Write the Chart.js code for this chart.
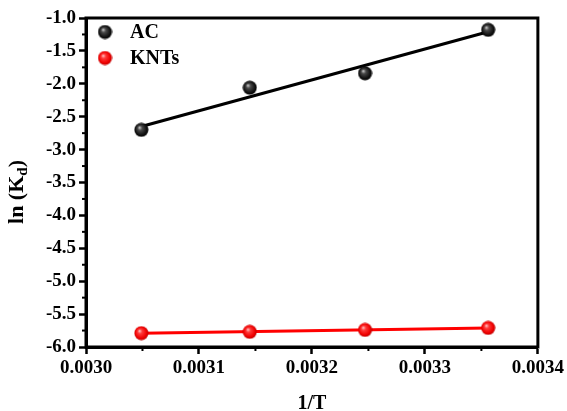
<!DOCTYPE html>
<html>
<head>
<meta charset="utf-8">
<script src="https://cdn.jsdelivr.net/npm/chart.js@4/dist/chart.umd.min.js"></script>
<style>
  html, body { margin: 0; padding: 0; background: #fff; }
</style>
</head>
<body>
<canvas id="kdChart" width="567" height="411"></canvas>
<script>
"use strict";

// данные: 1/T и ln(Kd) для двух сорбентов
const invT = [0.003049, 0.003145, 0.003247, 0.003356];
const lnKdAC = [-2.70, -2.06, -1.84, -1.18];
const lnKdKNTs = [-5.79, -5.77, -5.74, -5.71];

// линейная аппроксимация (концы линий)
const fitX = [0.003049, 0.003356];
const fitAC = [-2.65, -1.21];
const fitKNTs = [-5.79, -5.71];

const xTicks = [0.0030, 0.0031, 0.0032, 0.0033, 0.0034];
const xTickLabels = ['0.0030', '0.0031', '0.0032', '0.0033', '0.0034'];
const yTicks = [-6.0, -5.5, -5.0, -4.5, -4.0, -3.5, -3.0, -2.5, -2.0, -1.5, -1.0];
const yTickLabels = ['-6.0', '-5.5', '-5.0', '-4.5', '-4.0', '-3.5', '-3.0', '-2.5', '-2.0', '-1.5', '-1.0'];

const SERIF = '"Liberation Serif", "Times New Roman", serif';

// шарик с бликом для маркеров
function sphere(light, mid, dark, edge) {
    const c = document.createElement('canvas');
    c.width = 15; c.height = 15;
    const g = c.getContext('2d');
    const grad = g.createRadialGradient(5.5, 5, 0, 7.5, 7.5, 7.5);
    grad.addColorStop(0, light);
    grad.addColorStop(0.3, mid);
    grad.addColorStop(0.75, dark);
    grad.addColorStop(1, edge);
    g.fillStyle = grad;
    g.beginPath();
    g.arc(7.5, 7.5, 7, 0, Math.PI * 2);
    g.fill();
    return c;
}

const blackBall = sphere('#dcdcdc', '#4a4a4a', '#111', '#000');
const redBall = sphere('#ffd8d8', '#ff3a3a', '#f00000', '#b00000');

function pts(xs, ys) {
    return xs.map((x, i) => ({ x: x, y: ys[i] }));
}

// рамка, мелкие засечки, подпись оси Y и легенда
const decor = {
    id: 'decor',
    afterDraw(chart) {
        const ctx = chart.ctx;
        const a = chart.chartArea;
        const xs = chart.scales.x, ys = chart.scales.y;
        ctx.save();

        // minor ticks
        ctx.strokeStyle = '#000';
        ctx.lineWidth = 2;
        for (let i = 0; i < xTicks.length - 1; i++) {
            const px = xs.getPixelForValue((xTicks[i] + xTicks[i + 1]) / 2);
            ctx.beginPath();
            ctx.moveTo(px, a.bottom);
            ctx.lineTo(px, a.bottom + 4);
            ctx.stroke();
        }
        for (let i = 0; i < yTicks.length - 1; i++) {
            const py = ys.getPixelForValue((yTicks[i] + yTicks[i + 1]) / 2);
            ctx.beginPath();
            ctx.moveTo(a.left, py);
            ctx.lineTo(a.left - 4, py);
            ctx.stroke();
        }

        // frame
        ctx.lineWidth = 3;
        ctx.strokeRect(a.left, a.top, a.right - a.left, a.bottom - a.top);

        // y title: ln (Kd)
        ctx.fillStyle = '#000';
        ctx.textBaseline = 'alphabetic';
        const big = 'bold 22px ' + SERIF;
        const small = 'bold 15px ' + SERIF;
        ctx.font = big;
        const w1 = ctx.measureText('ln (K').width;
        const w3 = ctx.measureText(')').width;
        ctx.font = small;
        const w2 = ctx.measureText('d').width;
        const total = w1 + w2 + w3;
        ctx.translate(23, 192);
        ctx.rotate(-Math.PI / 2);
        let x0 = -total / 2;
        ctx.font = big;
        ctx.fillText('ln (K', x0, 0);
        ctx.font = small;
        ctx.fillText('d', x0 + w1, 4);
        ctx.font = big;
        ctx.fillText(')', x0 + w1 + w2, 0);
        ctx.setTransform(1, 0, 0, 1, 0, 0);

        // legend
        const items = [
            { img: blackBall, text: chart.data.datasets[0].label, y: 32 },
            { img: redBall, text: chart.data.datasets[1].label, y: 58 }
        ];
        ctx.font = 'bold 20px ' + SERIF;
        ctx.textBaseline = 'middle';
        items.forEach(it => {
            ctx.drawImage(it.img, 105 - 7.5, it.y - 7.5);
            ctx.fillText(it.text, 130, it.y + 1);
        });
        ctx.restore();
    }
};

new Chart(document.getElementById('kdChart'), {
    type: 'scatter',
    data: {
        datasets: [
            {
                label: 'AC',
                data: pts(invT, lnKdAC),
                pointStyle: blackBall,
                pointRadius: 7,
                pointHoverRadius: 7
            },
            {
                label: 'KNTs',
                data: pts(invT, lnKdKNTs),
                pointStyle: redBall,
                pointRadius: 7,
                pointHoverRadius: 7
            },
            {
                label: 'AC fit',
                data: pts(fitX, fitAC),
                showLine: true,
                borderColor: '#000',
                borderWidth: 3,
                pointRadius: 0
            },
            {
                label: 'KNTs fit',
                data: pts(fitX, fitKNTs),
                showLine: true,
                borderColor: '#ff0000',
                borderWidth: 3,
                pointRadius: 0
            }
        ]
    },
    options: {
        responsive: false,
        animation: false,
        devicePixelRatio: 1,
        layout: { padding: { top: 18, right: 28, left: 0, bottom: 0 } },
        plugins: {
            legend: { display: false },
            tooltip: { enabled: false }
        },
        scales: {
            x: {
                type: 'linear',
                min: 0.0030,
                max: 0.0034,
                afterBuildTicks: s => { s.ticks = xTicks.map(v => ({ value: v })); },
                afterFit: s => { s.height = 64; },
                grid: {
                    drawOnChartArea: false,
                    drawTicks: true,
                    tickLength: 7,
                    tickWidth: 2.5,
                    tickColor: '#000'
                },
                border: { display: true, color: '#000', width: 3 },
                ticks: {
                    color: '#000',
                    padding: 3,
                    maxRotation: 0,
                    font: { family: SERIF, size: 19, weight: 'bold' },
                    callback: (v, i) => xTickLabels[i]
                },
                title: {
                    display: true,
                    text: '1/T',
                    color: '#000',
                    padding: { top: 0, bottom: -5 },
                    font: { family: SERIF, size: 20, weight: 'bold' }
                }
            },
            y: {
                type: 'linear',
                min: -6.0,
                max: -1.0,
                afterBuildTicks: s => { s.ticks = yTicks.map(v => ({ value: v })); },
                afterFit: s => { s.width = 86; },
                grid: {
                    drawOnChartArea: false,
                    drawTicks: true,
                    tickLength: 7,
                    tickWidth: 2.5,
                    tickColor: '#000'
                },
                border: { display: true, color: '#000', width: 3 },
                ticks: {
                    color: '#000',
                    padding: 3,
                    font: { family: SERIF, size: 19, weight: 'bold' },
                    callback: (v, i) => yTickLabels[i]
                }
            }
        }
    },
    plugins: [decor]
});
</script>
</body>
</html>
